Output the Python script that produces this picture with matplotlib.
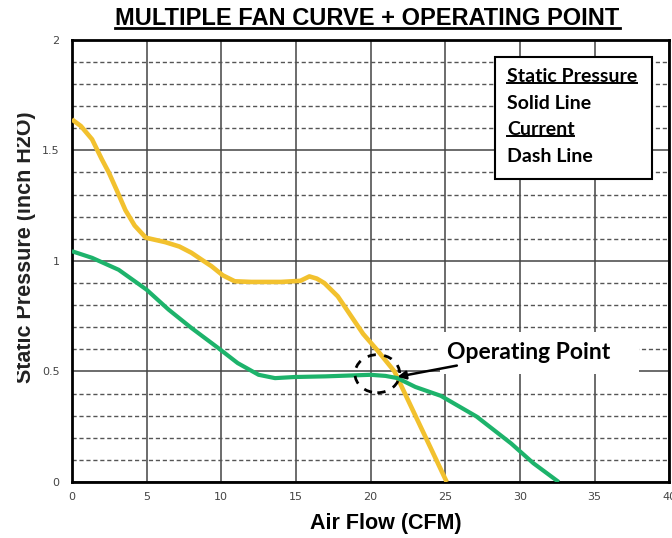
import numpy as np
import matplotlib
matplotlib.use("Agg")
import matplotlib.pyplot as plt
from matplotlib.patches import Ellipse, Rectangle
from matplotlib.lines import Line2D

# static pressure curves (x = CFM, y = inch H2O)
yellow_x = [0, 0.6, 1.35, 2.0, 2.47, 3.0, 3.58, 4.2, 4.95, 5.6, 6.25, 7.2, 8.0, 8.7,
            9.35, 10.1, 10.9, 12.0, 14.0, 15.3, 15.9, 16.4, 16.9, 17.8, 18.7, 19.5,
            20.4, 21.0, 21.6, 22.3, 23.0, 23.7, 24.4, 25.1]
yellow_y = [1.64, 1.61, 1.55, 1.46, 1.40, 1.32, 1.23, 1.16, 1.105, 1.095, 1.085, 1.065,
            1.037, 1.005, 0.976, 0.935, 0.908, 0.905, 0.905, 0.91, 0.93, 0.92, 0.90,
            0.84, 0.75, 0.67, 0.60, 0.55, 0.50, 0.40, 0.30, 0.20, 0.10, 0.0]

green_x = [0, 1.35, 3.13, 5.0, 6.47, 8.0, 9.8, 11.1, 12.5, 13.6, 14.9, 17.0, 20.0,
           21.0, 21.8, 23.0, 24.7, 27.1, 29.4, 30.9, 32.6]
green_y = [1.044, 1.014, 0.96, 0.87, 0.78, 0.697, 0.606, 0.538, 0.485, 0.47, 0.475,
           0.478, 0.485, 0.48, 0.47, 0.43, 0.39, 0.296, 0.175, 0.085, 0.0]

x_ticks = [0, 5, 10, 15, 20, 25, 30, 35, 40]
y_ticks = [0, 0.5, 1, 1.5, 2]
y_tick_labels = ["0", "0.5", "1", "1.5", "2"]

op_point = (20.45, 0.49)
arrow_tip = (21.8, 0.476)
legend_lines = ["Static Pressure", "Solid Line", "Current", "Dash Line"]
legend_underlined = [True, False, True, False]

fig = plt.figure(figsize=(6.72, 5.38), dpi=100)
ax = fig.add_axes([0.107, 0.104, 0.889, 0.822])

ax.set_xlim(0, 40)
ax.set_ylim(0, 2)
ax.set_xticks(x_ticks)
ax.set_yticks(y_ticks)
ax.set_yticklabels(y_tick_labels)
ax.set_yticks(np.arange(0, 2.01, 0.1), minor=True)
ax.tick_params(which="both", length=0)
ax.tick_params(axis="x", pad=7, labelsize=8, labelcolor="#444444")
ax.tick_params(axis="y", pad=9, labelsize=8, labelcolor="#444444")

ax.grid(which="minor", axis="y", color="#555555", linestyle=(0, (3, 2)), linewidth=1.0)
ax.grid(which="major", axis="both", color="#444444", linestyle="-", linewidth=1.1)
ax.set_axisbelow(True)
for s in ax.spines.values():
    s.set_linewidth(2)
    s.set_color("black")

ax.plot(yellow_x, yellow_y, color="#F2C12E", linewidth=3.3, solid_capstyle="butt", zorder=3)
ax.plot(green_x, green_y, color="#1DB36B", linewidth=3.0, solid_capstyle="butt", zorder=3)

# operating point marker
ax.add_patch(Ellipse(op_point, width=3.0, height=0.172, fill=False, edgecolor="black",
                     linewidth=2, linestyle=(0, (3, 3)), zorder=4))
# white patch behind the label hides the grid
ax.add_patch(Rectangle((24.67, 0.49), 13.3, 0.19, facecolor="white", edgecolor="none",
                       zorder=2.5))
ax.annotate("Operating Point", xy=arrow_tip, xytext=(25.1, 0.588),
            fontsize=16.5, fontweight="bold", family="Lato", va="center", ha="left",
            arrowprops=dict(arrowstyle="-|>", color="black", linewidth=1.8,
                            mutation_scale=12, shrinkA=1, shrinkB=0),
            zorder=5)

# legend box
ax.add_patch(Rectangle((0.7085, 0.6855), 0.2625, 0.2755, transform=ax.transAxes,
                       facecolor="white", edgecolor="black", linewidth=1.5, zorder=5))
legend_y = [0.917, 0.857, 0.798, 0.736]
legend_texts = []
for txt, yy in zip(legend_lines, legend_y):
    t = ax.text(0.728, yy, txt, transform=ax.transAxes, fontsize=14, fontweight="bold",
                family="Lato", va="center", ha="left", zorder=6)
    legend_texts.append(t)

title = fig.text(0.547, 0.965, "MULTIPLE FAN CURVE + OPERATING POINT", ha="center",
                 va="center", fontsize=17, fontweight="bold", family="Liberation Sans")
fig.text(0.574, 0.027, "Air Flow (CFM)", ha="center", va="center", fontsize=15.5,
         fontweight="bold", family="Liberation Sans")
fig.text(0.053, 0.54, "Static Pressure (inch H2O)", ha="right", va="center", rotation=90,
         fontsize=15.5, fontweight="bold", family="Liberation Sans", color="#222222")
# the reference is cropped on the left, cutting into the axis label
fig.add_artist(Rectangle((0, 0.2), 17 / 672, 0.7, transform=fig.transFigure,
                         facecolor="white", edgecolor="none", zorder=10))

# underline some texts
fig.canvas.draw()
renderer = fig.canvas.get_renderer()


def underline(t, offset=2, lw=1.6):
    bb = t.get_window_extent(renderer)
    y = bb.y0 + offset
    fig.add_artist(Line2D([bb.x0, bb.x1], [y, y], transform=None, color="black",
                          linewidth=lw, zorder=7))


underline(title, offset=2, lw=2)
for t, u in zip(legend_texts, legend_underlined):
    if u:
        underline(t, offset=2, lw=1.4)

fig.savefig("out.png", dpi=100)
